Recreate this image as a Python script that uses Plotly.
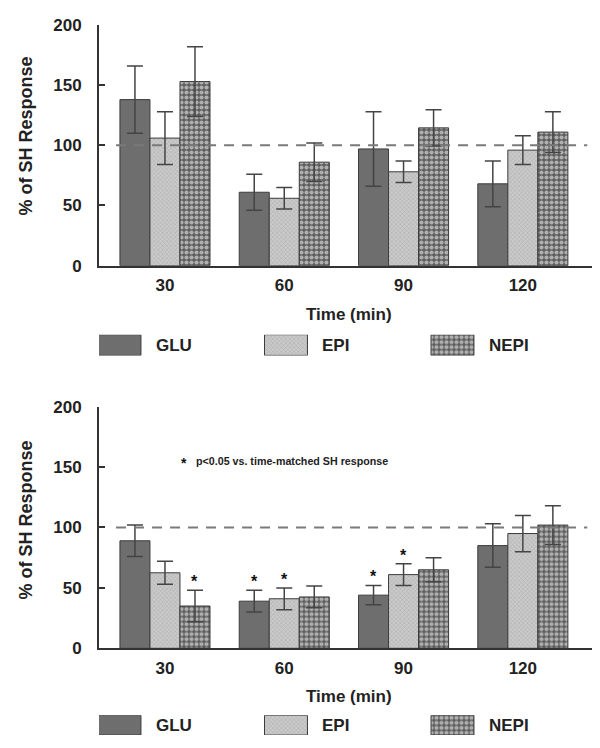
import plotly.graph_objects as go

# ---------------- data ----------------
time_labels = ["30", "60", "90", "120"]
series_names = ["GLU", "EPI", "NEPI"]

# top panel (mean, SEM)
top_glu = [138, 61, 97, 68]
top_glu_err = [28, 15, 31, 19]
top_epi = [106, 56, 78, 96]
top_epi_err = [22, 9, 9, 12]
top_nepi = [153, 86, 114.5, 111]
top_nepi_err = [29, 16, 15, 17]

# bottom panel (mean, SEM)
bot_glu = [89, 39, 44, 85]
bot_glu_err = [13, 9, 8, 18]
bot_epi = [62.5, 41, 61, 95]
bot_epi_err = [9.5, 9, 9, 15]
bot_nepi = [35, 42.5, 65, 102]
bot_nepi_err = [13, 9, 10, 16]

# significance flags (bottom panel)
bot_glu_sig = [False, True, True, False]
bot_epi_sig = [False, True, True, False]
bot_nepi_sig = [True, False, False, False]

reference_level = 100
note_text = "p<0.05 vs. time-matched SH response"

# ---------------- styles ----------------
FONT = "Liberation Sans"
AX = "#333333"
styles = {
    "GLU": dict(color="#6e6e6e", line=dict(color="#3c3c3c", width=1)),
    "EPI": dict(color="#c6c6c6", line=dict(color="#3c3c3c", width=1),
                pattern=dict(shape="x", size=3, solidity=0.3, fgcolor="#8a8a8a", bgcolor="#cacaca")),
    "NEPI": dict(color="#ffffff", line=dict(color="#3c3c3c", width=1),
                 pattern=dict(shape=".", size=5, solidity=0.55, fgcolor="#ffffff", bgcolor="#5e5e5e")),
}

xs = list(range(len(time_labels)))
bargap = 0.245
barw = (1 - bargap) / 3

fig = go.Figure()

panels = [
    ("x", "y", [top_glu, top_epi, top_nepi], [top_glu_err, top_epi_err, top_nepi_err]),
    ("x2", "y2", [bot_glu, bot_epi, bot_nepi], [bot_glu_err, bot_epi_err, bot_nepi_err]),
]
for xa, ya, vals, errs in panels:
    for name, v, e in zip(series_names, vals, errs):
        fig.add_trace(go.Bar(
            x=xs, y=v, name=name, xaxis=xa, yaxis=ya, showlegend=False,
            marker=styles[name],
            error_y=dict(type="data", array=e, color="#444444", thickness=1.5, width=8),
        ))

# legend swatches (drawn as bars on small helper axes)
for xa, ya in [("x3", "y3"), ("x4", "y4")]:
    for i, name in enumerate(series_names):
        fig.add_trace(go.Bar(x=[i], y=[1], width=[0.258], xaxis=xa, yaxis=ya,
                             showlegend=False, marker=styles[name], hoverinfo="skip"))
        fig.add_annotation(x=i + 0.129, y=0.5, xref=xa, yref=ya, text=f"<b>{name}</b>",
                           showarrow=False, xanchor="left", yanchor="middle", xshift=13,
                           font=dict(family=FONT, size=17, color="#222222"))

# significance stars
bot_vals = [bot_glu, bot_epi, bot_nepi]
bot_errs = [bot_glu_err, bot_epi_err, bot_nepi_err]
bot_sigs = [bot_glu_sig, bot_epi_sig, bot_nepi_sig]
for si in range(3):
    for ci in xs:
        if bot_sigs[si][ci]:
            fig.add_annotation(x=ci + (si - 1) * barw, y=bot_vals[si][ci] + bot_errs[si][ci],
                               xref="x2", yref="y2", text="<b>*</b>", showarrow=False,
                               yanchor="bottom", yshift=-2,
                               font=dict(family=FONT, size=16, color="#111111"))

# note
fig.add_annotation(x=0.16, y=155, xref="x2", yref="y2", text="<b>*</b>", showarrow=False,
                   xanchor="center", yanchor="middle", yshift=-2,
                   font=dict(family=FONT, size=14, color="#111111"))
fig.add_annotation(x=0.245, y=155, xref="x2", yref="y2", text=f"<b>{note_text}</b>",
                   showarrow=False, xanchor="left", yanchor="middle",
                   font=dict(family=FONT, size=10.7, color="#222222"))

# reference dashed lines
for xa, ya in [("x", "y"), ("x2", "y2")]:
    fig.add_shape(type="line", xref=xa, yref=ya, x0=-0.41, x1=3.54,
                  y0=reference_level, y1=reference_level, layer="above",
                  line=dict(color="#7a7a7a", width=2, dash="10px,8px"))

# axis titles
H = 748 - 22
def py(p):
    return (743 - p) / H

for ytitle_px, xtitle_px in [(130, 311), (519.5, 698)]:
    fig.add_annotation(x=(18 - 91) / 499, y=py(ytitle_px), xref="paper", yref="paper",
                       text="<b>% of SH Response</b>", textangle=-90, showarrow=False,
                       xanchor="center", yanchor="middle",
                       font=dict(family=FONT, size=18, color="#222222"))
    fig.add_annotation(x=0.5, y=py(xtitle_px), xref="paper", yref="paper",
                       text="<b>Time (min)</b>", showarrow=False,
                       xanchor="center", yanchor="middle",
                       font=dict(family=FONT, size=17, color="#222222"))

xcommon = dict(range=[-0.553, 3.63], tickvals=xs, ticktext=[f"<b>{t}</b>" for t in time_labels],
               showline=True, linecolor=AX, linewidth=2, ticks="", showgrid=False,
               zeroline=False, ticklabelstandoff=3,
               tickfont=dict(family=FONT, size=17, color="#222222"))
ycommon = dict(range=[0, 200], tickvals=[0, 50, 100, 150, 200],
               ticktext=["<b>0</b>", "<b>50</b>", "<b>100</b>", "<b>150</b>", "<b>200</b>"],
               showline=True, linecolor=AX, linewidth=2, ticks="inside", ticklen=6,
               tickwidth=2, tickcolor=AX, showgrid=False, zeroline=False,
               ticklabelstandoff=12, tickfont=dict(family=FONT, size=17, color="#222222"))
hidden = dict(visible=False, showgrid=False, zeroline=False, fixedrange=True)

fig.update_layout(
    width=600, height=748,
    margin=dict(l=91, r=10, t=17, b=5),
    paper_bgcolor="white", plot_bgcolor="white",
    barmode="group", bargap=bargap, bargroupgap=0,
    xaxis=dict(domain=[0, 1], anchor="y", **xcommon),
    yaxis=dict(domain=[py(261), 1], anchor="x", **ycommon),
    xaxis2=dict(domain=[0, 1], anchor="y2", **xcommon),
    yaxis2=dict(domain=[py(649), py(404)], anchor="x2", **ycommon),
    xaxis3=dict(domain=[0, 1], anchor="y3", range=[-0.123, 2.874], **hidden),
    yaxis3=dict(domain=[py(352), py(331)], anchor="x3", range=[0, 1], **hidden),
    xaxis4=dict(domain=[0, 1], anchor="y4", range=[-0.123, 2.874], **hidden),
    yaxis4=dict(domain=[py(737), py(717)], anchor="x4", range=[0, 1], **hidden),
)

fig.write_html("out.html")
